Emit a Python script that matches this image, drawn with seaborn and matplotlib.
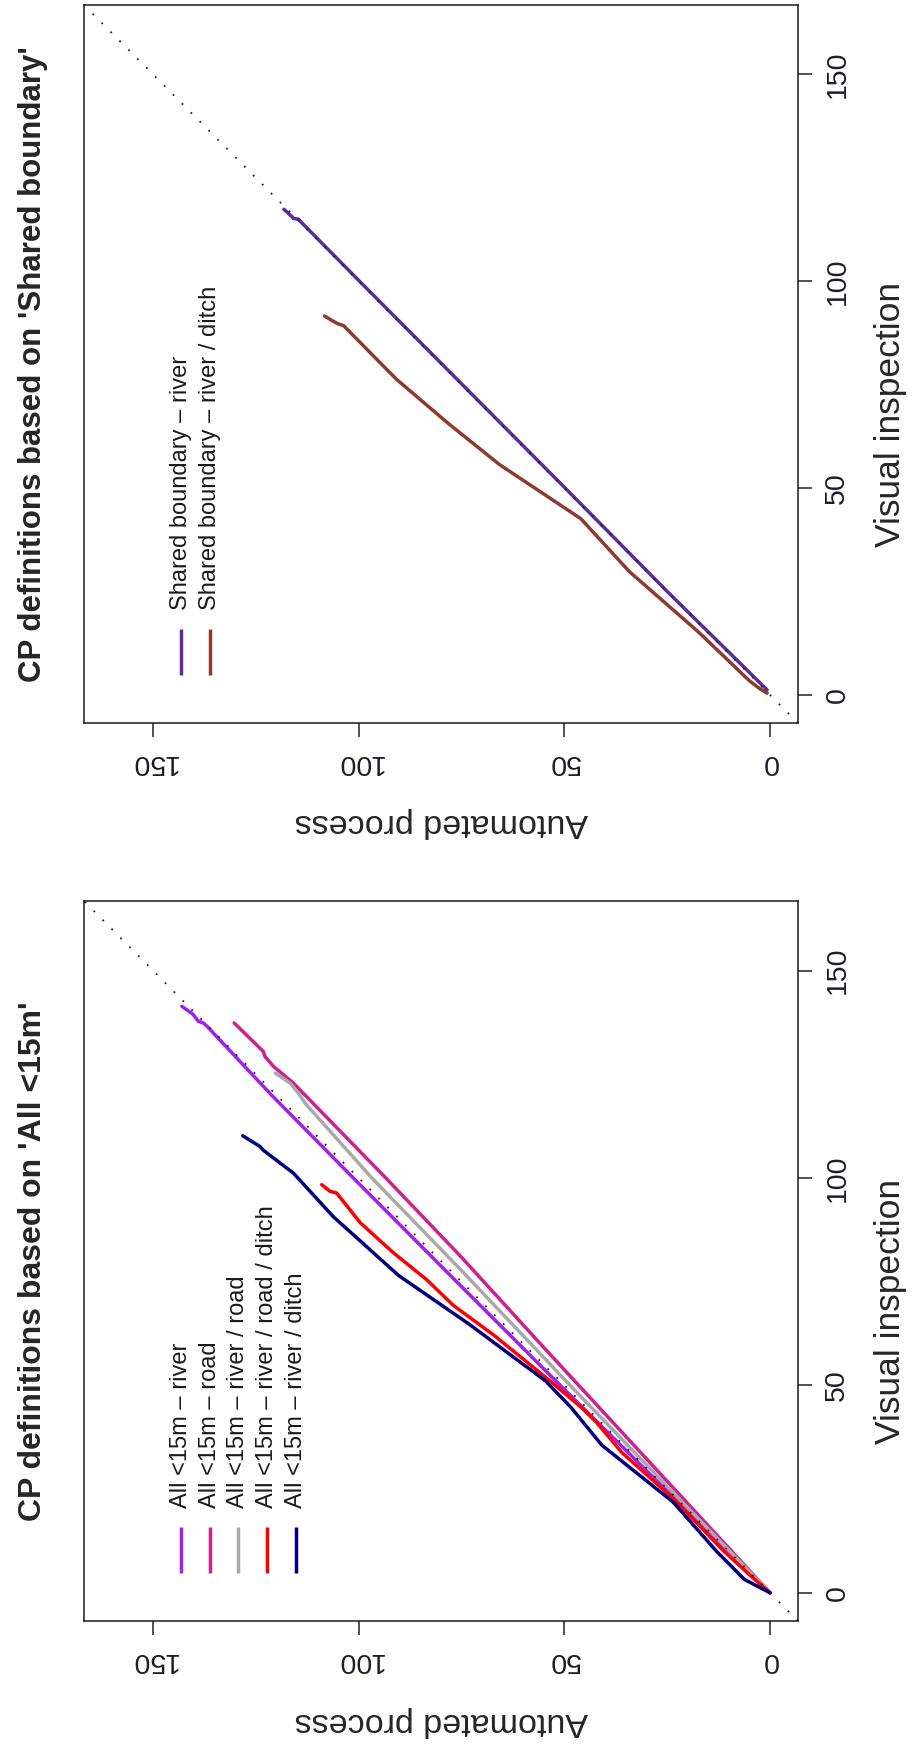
import numpy as np
import pandas as pd
import matplotlib
matplotlib.use("Agg")
import matplotlib.pyplot as plt
from matplotlib.lines import Line2D
import seaborn as sns

# ------------------------------------------------------------------
# Data: (visual inspection, automated process)
# ------------------------------------------------------------------
# Panel: CP definitions based on 'Shared boundary'
sb_title = "CP definitions based on 'Shared boundary'"
sb_labels = ["Shared boundary \u2013 river", "Shared boundary \u2013 river / ditch"]
sb_colors = ["#5B2C9E", "#8E3B2C"]

sb_river_visual = [1.2, 25, 50, 75, 100, 114.3, 115.0, 115.2, 115.6, 117.4]
sb_river_auto = [0.7, 25.0, 49.8, 74.8, 99.8, 114.0, 114.6, 115.9, 116.2, 118.2]

sb_ditch_visual = [0.4, 1.5, 3.4, 15.2, 29.8, 42.6, 55.7, 65.6, 76.2, 80.0, 89.3, 89.7, 90.5, 91.6]
sb_ditch_auto = [0.7, 2.5, 5.0, 17.4, 34.2, 46.0, 65.8, 78.2, 90.7, 94.5, 103.7, 105.0, 106.5, 108.3]

# Panel: CP definitions based on 'All <15m'
all_title = "CP definitions based on 'All <15m'"
all_labels = ["All <15m \u2013 river", "All <15m \u2013 road", "All <15m \u2013 river / road",
              "All <15m \u2013 river / road / ditch", "All <15m \u2013 river / ditch"]
all_colors = ["#A020F0", "#D02090", "#A9A9A9", "#FF0000", "#000080"]

river_visual = [0, 20, 50, 75, 100, 120, 136.6, 137.4, 137.8, 139.5, 141.4]
river_auto = [0, 20.4, 51.0, 76.2, 101.3, 121.2, 136.9, 137.8, 139.0, 140.3, 143.0]

road_visual = [0, 20, 40, 60, 81.2, 100, 122.9, 126.9, 129.3, 130.5, 131.3, 134.5, 137.4]
road_auto = [0, 18.6, 37.2, 55.8, 75.3, 93.4, 115.9, 120.7, 122.8, 123.2, 124.0, 127.3, 130.3]

river_road_visual = [0, 20, 50, 78, 100, 118, 120.5, 122.9, 125.3]
river_road_auto = [0, 19.5, 48.6, 75.3, 96.8, 113.0, 114.7, 116.7, 120.3]

rrd_visual = [0, 4, 10, 22.8, 33.8, 41.1, 44.7, 51.1, 62, 69.3, 75.5, 82, 89.2, 94.3, 96.4, 96.8, 98.4]
rrd_auto = [0, 4.6, 11.2, 23.6, 36.0, 42.2, 45.9, 53.5, 67.0, 77.0, 83.5, 91.6, 99.6, 103.7, 105.4, 107.0, 109.0]

river_ditch_visual = [0, 3.2, 10, 21.9, 35.6, 44.7, 51.1, 64.8, 76.5, 90.7, 101.2, 106.7, 107.6, 110.2]
river_ditch_auto = [0, 6.2, 13.0, 23.6, 40.9, 48.4, 54.6, 73.2, 90.3, 106.2, 115.9, 123.2, 124.0, 128.2]

tick_values = [0, 50, 100, 150]
tick_labels = ["0", "50", "100", "150"]
axis_limits = (-6.8, 166.8)
x_label = "Automated process"
y_label = "Visual inspection"

# ------------------------------------------------------------------
sns.set_style("ticks")
plt.rcParams['font.family'] = ['Liberation Sans', 'DejaVu Sans']
plt.rcParams['axes.linewidth'] = 1.1
plt.rcParams['axes.edgecolor'] = '#1a1a1a'

W, H = 913, 1744
fig = plt.figure(figsize=(W / 100, H / 100), dpi=100)
fig.patch.set_facecolor('white')

ax_top = fig.add_axes([84 / W, (H - 723) / H, 714 / W, 718 / H])
ax_bot = fig.add_axes([84 / W, (H - 1621) / H, 714 / W, 720 / H])


def draw_panel(ax, series, labels, colors, title, title_size):
    for (vis, aut), col in zip(series, colors):
        df = pd.DataFrame({"auto": aut, "visual": vis})
        sns.lineplot(data=df, x="auto", y="visual", sort=False, estimator=None,
                     color=col, linewidth=2.5, ax=ax, legend=False, zorder=2)
    # identity reference line (lty = 3)
    ax.axline((0, 0), slope=1, color='#222222', linewidth=1.3,
              linestyle=(0, (1, 6)), zorder=3)

    ax.set_xlim(axis_limits[1], axis_limits[0])   # automated axis runs right-to-left
    ax.set_ylim(*axis_limits)

    ax.set_xticks(tick_values)
    ax.set_xticklabels(tick_labels, rotation=180)
    ax.yaxis.tick_right()
    ax.set_yticks(tick_values)
    ax.set_yticklabels(tick_labels, rotation=90, va='center', ha='left')
    ax.tick_params(axis='both', direction='out', length=10, width=1.1,
                   color='#222222', labelsize=20.5, labelcolor='#1c1c2a')
    ax.tick_params(axis='x', pad=9)
    ax.tick_params(axis='y', pad=9)

    ax.set_xlabel(x_label, fontsize=24.5, rotation=180)
    ax.xaxis.label.set_rotation_mode('default')
    ax.xaxis.label.set_verticalalignment('center')
    ax.xaxis.set_label_coords(0.5, -100 / 720)

    ax.yaxis.set_label_position('right')
    ax.set_ylabel(y_label, fontsize=25.5, rotation=90)
    ax.yaxis.label.set_rotation_mode('default')
    ax.yaxis.label.set_horizontalalignment('center')
    ax.yaxis.label.set_verticalalignment('center')
    ax.yaxis.set_label_coords((890 - 84) / 714, 0.43)

    ax.text(-0.072, 0.5, title, transform=ax.transAxes, rotation=90,
            ha='center', va='center', fontsize=title_size, fontweight='bold')

    # legend drawn rotated, like the rest of the page
    x0 = (181 - 84) / 714
    dx = 28.7 / 714
    for i, (lab, col) in enumerate(zip(labels, colors)):
        xx = x0 + i * dx
        ax.add_line(Line2D([xx, xx], [48 / 720, 94.5 / 720], transform=ax.transAxes,
                           color=col, linewidth=2.5, solid_capstyle='butt'))
        ax.text(xx, 113.5 / 720, lab, transform=ax.transAxes, rotation=90,
                ha='center', va='bottom', fontsize=17, color='#1a1a1a')
    for sp in ax.spines.values():
        sp.set_visible(True)


draw_panel(ax_top,
           [(sb_river_visual, sb_river_auto), (sb_ditch_visual, sb_ditch_auto)],
           sb_labels, sb_colors, sb_title, 22.5)

draw_panel(ax_bot,
           [(river_visual, river_auto), (road_visual, road_auto),
            (river_road_visual, river_road_auto), (rrd_visual, rrd_auto),
            (river_ditch_visual, river_ditch_auto)],
           all_labels, all_colors, all_title, 23)

fig.savefig("out.png", dpi=100, facecolor='white')
